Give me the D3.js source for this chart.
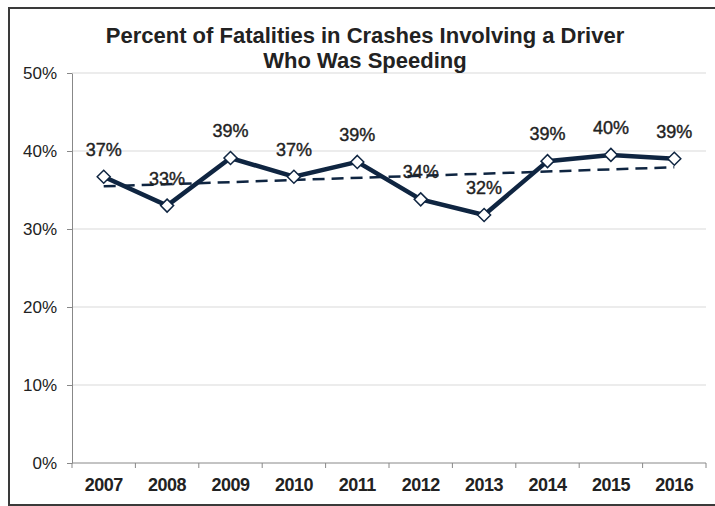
<!DOCTYPE html>
<meta charset="utf-8">
<style>
body { margin: 0; background: #fff; }
text { font-family: "Liberation Sans", Arial, sans-serif; fill: #222; }
</style>
<svg width="715" height="506"></svg>
<script src="https://cdn.jsdelivr.net/npm/d3@7"></script>
<script>

var years = ["2007", "2008", "2009", "2010", "2011", "2012", "2013", "2014", "2015", "2016"];
var percent = [36.7, 33.0, 39.1, 36.7, 38.6, 33.8, 31.8, 38.7, 39.5, 39.0];
var labels = ["37%", "33%", "39%", "37%", "39%", "34%", "32%", "39%", "40%", "39%"];
var yTicks = [0, 10, 20, 30, 40, 50];
var titleLines = ["Percent of Fatalities in Crashes Involving a Driver", "Who Was Speeding"];

var svg = d3.select("svg"),
    width = +svg.attr("width"),
    height = +svg.attr("height"),
    margin = {top: 73, right: 9, bottom: 43, left: 72};

var navy = "#0f2541";

// outer frame (right edge runs off the picture)
svg.append("path")
    .attr("d", "M" + (width + 5) + ",8H9V505H" + (width + 5))
    .attr("fill", "none")
    .attr("stroke", "#3a3a3a")
    .attr("stroke-width", 2);

var x = d3.scaleBand()
    .domain(years)
    .range([margin.left, width - margin.right]);

var y = d3.scaleLinear()
    .domain([0, 50])
    .range([height - margin.bottom, margin.top]);

// gridlines
svg.append("g")
    .selectAll("line")
    .data(yTicks.filter(function(d) { return d > 0; }))
    .enter().append("line")
      .attr("x1", margin.left)
      .attr("x2", width - margin.right)
      .attr("y1", function(d) { return y(d); })
      .attr("y2", function(d) { return y(d); })
      .attr("stroke", "#d9d9d9")
      .attr("stroke-width", 1);

// y axis
var yAxis = svg.append("g")
    .attr("transform", "translate(" + margin.left + ",0)")
    .call(d3.axisLeft(y).tickValues(yTicks).tickSize(5).tickSizeOuter(0)
      .tickFormat(function(d) { return d + "%"; }));
yAxis.select(".domain").attr("stroke", "#888");
yAxis.selectAll(".tick line").attr("stroke", "#888");
yAxis.selectAll(".tick text")
    .attr("x", -15)
    .style("font-size", "17px")
    .attr("fill", "#222");

// x axis, ticks between categories
var xAxis = svg.append("g")
    .attr("transform", "translate(0," + y(0) + ")");
xAxis.append("line")
    .attr("x1", margin.left).attr("x2", width - margin.right)
    .attr("stroke", "#888");
xAxis.selectAll(".sep")
    .data(years.concat(["end"]))
    .enter().append("line")
      .attr("x1", function(d, i) { return margin.left + i * x.step(); })
      .attr("x2", function(d, i) { return margin.left + i * x.step(); })
      .attr("y1", 0).attr("y2", 5)
      .attr("stroke", "#888");
xAxis.selectAll("text")
    .data(years)
    .enter().append("text")
      .attr("x", function(d) { return x(d) + x.bandwidth() / 2; })
      .attr("y", 28)
      .attr("text-anchor", "middle")
      .style("font-size", "18px")
      .style("font-weight", "bold")
      .style("letter-spacing", "-0.5px")
      .text(function(d) { return d; });

var cx = function(i) { return x(years[i]) + x.bandwidth() / 2; };

// linear trend
var n = percent.length,
    mx = d3.mean(percent, function(d, i) { return i; }),
    my = d3.mean(percent),
    slope = d3.sum(percent, function(d, i) { return (i - mx) * (d - my); }) /
            d3.sum(percent, function(d, i) { return (i - mx) * (i - mx); }),
    icpt = my - slope * mx;

svg.append("line")
    .attr("x1", cx(0)).attr("y1", y(icpt))
    .attr("x2", cx(n - 1)).attr("y2", y(icpt + slope * (n - 1)))
    .attr("stroke", navy)
    .attr("stroke-width", 2.5)
    .attr("stroke-dasharray", "12,7");

// data labels
svg.append("g")
    .selectAll("text")
    .data(percent)
    .enter().append("text")
      .attr("x", function(d, i) { return cx(i); })
      .attr("y", function(d) { return y(d) - 21; })
      .attr("text-anchor", "middle")
      .style("font-size", "18px")
      .style("stroke", "#222")
      .style("stroke-width", 0.4)
      .text(function(d, i) { return labels[i]; });

// main line
var line = d3.line()
    .x(function(d, i) { return cx(i); })
    .y(function(d) { return y(d); });

svg.append("path")
    .datum(percent)
    .attr("fill", "none")
    .attr("stroke", navy)
    .attr("stroke-width", 4.5)
    .attr("stroke-linejoin", "miter")
    .attr("d", line);

svg.append("g")
    .selectAll("path")
    .data(percent)
    .enter().append("path")
      .attr("transform", function(d, i) { return "translate(" + cx(i) + "," + y(d) + ")"; })
      .attr("d", "M0,-6.5L6.5,0L0,6.5L-6.5,0Z")
      .attr("fill", "#fff")
      .attr("stroke", navy)
      .attr("stroke-width", 1.5);

// title
svg.append("text")
    .attr("text-anchor", "middle")
    .style("font-size", "22px")
    .style("font-weight", "bold")
    .selectAll("tspan")
    .data(titleLines)
    .enter().append("tspan")
      .attr("x", 365)
      .attr("y", function(d, i) { return 43 + i * 25; })
      .text(function(d) { return d; });

</script>
